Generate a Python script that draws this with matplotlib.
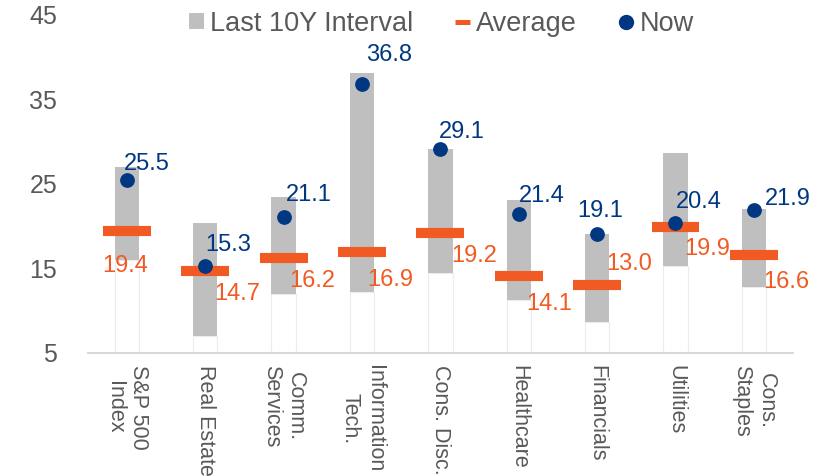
import matplotlib
matplotlib.use("Agg")
import matplotlib.pyplot as plt
from matplotlib.patches import Patch
from matplotlib.lines import Line2D
import numpy as np

plt.rcParams["font.family"] = ["Liberation Sans", "DejaVu Sans"]

# Forward P/E by sector: 10-year range, 10-year average and current level
categories = ["S&P 500\nIndex", "Real Estate", "Comm.\nServices", "Information\nTech.",
              "Cons. Disc.", "Healthcare", "Financials", "Utilities", "Cons.\nStaples"]
range_low = [16.0, 7.0, 11.9, 12.2, 14.4, 11.2, 8.6, 15.3, 12.8]
range_high = [27.0, 20.4, 23.5, 38.1, 29.1, 23.1, 19.1, 28.7, 22.0]
average = [19.4, 14.7, 16.2, 16.9, 19.2, 14.1, 13.0, 19.9, 16.6]
now = [25.5, 15.3, 21.1, 36.8, 29.1, 21.4, 19.1, 20.4, 21.9]
y_ticks = [5, 15, 25, 35, 45]

GRAY = "#bfbfbf"
ORANGE = "#f15a22"
NAVY = "#003781"
TEXT = "#595959"

# label placement (pixel offsets from the mark)
now_dx = [-3, 0, 2, 4, -1, 0, 3, 0, 11]
now_dy = [18, 23, 24, 32, 20, 21, 25, 23, 14]
now_ha = ["left", "left", "left", "left", "left", "left", "center", "left", "left"]
avg_dx = [-2, 32, 29, 28, 34, 30, 32, 32, 32]
avg_dy = [-32, -21, -20, -25, -21, -26, 24, -20, -25]

fig = plt.figure(figsize=(8.33, 4.76), dpi=100)
ax = fig.add_axes([0.1053, 0.259, 0.8467, 0.7095])

x = np.arange(len(categories))
low = np.array(range_low)
high = np.array(range_high)
ymin = y_ticks[0]

# invisible base bars (faint outline) and the 10Y interval on top
ax.bar(x, low - ymin, bottom=ymin, width=0.31, facecolor="white",
       edgecolor="#ececec", linewidth=0.8, zorder=1)
ax.bar(x, high - low, bottom=low, width=0.31, color=GRAY, linewidth=0, zorder=2)

# averages as thick horizontal dashes
ax.hlines(average, x - 0.305, x + 0.305, colors=ORANGE, linewidth=7.3, zorder=3,
          capstyle="butt")

# current values
ax.plot(x, now, linestyle="none", marker="o", markersize=9.6, color=NAVY, zorder=4)

for i in range(len(categories)):
    ax.annotate(f"{now[i]:.1f}", (x[i], now[i]), xytext=(now_dx[i], now_dy[i] - 8.5),
                textcoords="offset pixels", ha=now_ha[i], va="baseline",
                fontsize=17, color=NAVY, zorder=5)
    ax.annotate(f"{average[i]:.1f}", (x[i], average[i]), xytext=(avg_dx[i], avg_dy[i] - 8.5),
                textcoords="offset pixels", ha="center", va="baseline",
                fontsize=17, color=ORANGE, zorder=5)

ax.set_xlim(-0.5, len(categories) - 0.5)
ax.set_ylim(y_ticks[0], y_ticks[-1])
ax.set_yticks(y_ticks)
ax.set_xticks(x)
ax.set_xticklabels(categories, rotation=-90, ha="center", va="top",
                   multialignment="center", fontsize=15.5, color=TEXT)
ax.tick_params(axis="x", length=0, pad=9)
ax.tick_params(axis="y", length=0, pad=22, labelsize=18, labelcolor=TEXT)

for side in ["top", "right", "left"]:
    ax.spines[side].set_visible(False)
ax.spines["bottom"].set_color("#d9d9d9")
ax.spines["bottom"].set_linewidth(1.5)

handles = [
    Patch(facecolor=GRAY, edgecolor="none"),
    Line2D([], [], color=ORANGE, linewidth=3.6, solid_capstyle="butt"),
    Line2D([], [], linestyle="none", marker="o", markersize=10, color=NAVY),
]
fig.legend(handles, ["Last 10Y Interval", "Average", "Now"], loc="center",
           bbox_to_anchor=(0.53, 0.95), ncol=3, frameon=False, fontsize=19.5,
           labelcolor=TEXT, handlelength=0.55, handleheight=0.55,
           handletextpad=0.22, columnspacing=1.55, borderpad=0, borderaxespad=0)

fig.savefig("out.png", dpi=100, facecolor="white")
